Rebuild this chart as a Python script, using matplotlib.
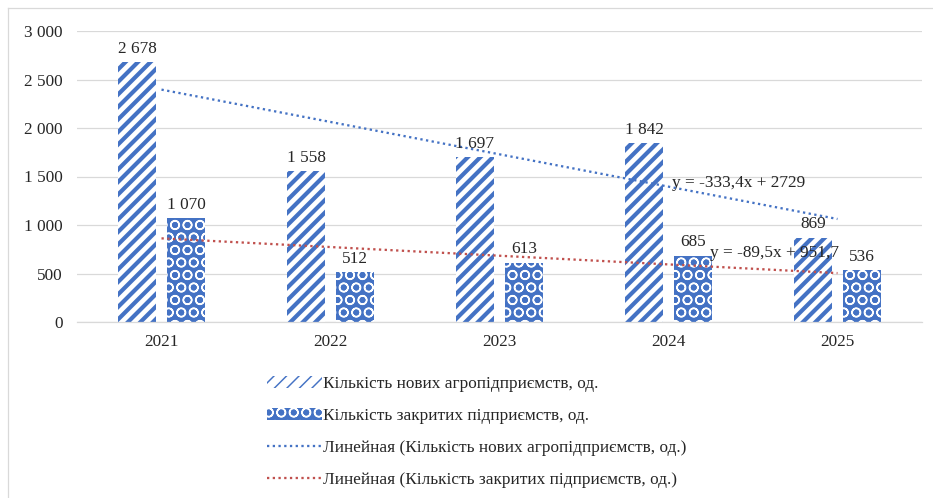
import numpy as np
import matplotlib.pyplot as plt
from matplotlib.lines import Line2D

# chart data
years = ["2021", "2022", "2023", "2024", "2025"]
new_firms = [2678, 1558, 1697, 1842, 869]
closed_firms = [1070, 512, 613, 685, 536]
yticks = [0, 500, 1000, 1500, 2000, 2500, 3000]

label_new = "Кількість нових агропідприємств, од."
label_closed = "Кількість закритих підприємств, од."

BLUE = "#4472C4"
RED = "#C0504D"
GRID = "#D9D9D9"

DPI = 75
plt.rcParams["font.family"] = ["Liberation Serif", "DejaVu Serif"]
plt.rcParams["font.size"] = 16.5

fig = plt.figure(figsize=(933 / DPI, 498 / DPI), dpi=DPI)
ax = fig.add_axes([77 / 933, 1 - 322 / 498, (922 - 77) / 933, (322 - 31) / 498])

x = np.arange(len(years))
w = 0.23
off = 0.145

plt.rcParams["hatch.linewidth"] = 4.0
b1 = ax.bar(x - off, new_firms, w, facecolor="white", edgecolor=BLUE,
            hatch="//", linewidth=0, label=label_new, zorder=2)
plt.rcParams["hatch.linewidth"] = 1.4
b2 = ax.bar(x + off, closed_firms, w, facecolor=BLUE, edgecolor="white",
            hatch="O", linewidth=0, label=label_closed, zorder=2)

fmt = lambda v: f"{v:,}".replace(",", " ")
for bars, vals in ((b1, new_firms), (b2, closed_firms)):
    for r, v in zip(bars, vals):
        ax.annotate(fmt(v), (r.get_x() + r.get_width() / 2, v),
                    xytext=(0, 5), textcoords="offset points",
                    ha="center", va="bottom", color="#262626", zorder=4)

# linear trends (x = 1..5 as in Excel)
t = x + 1
k1, c1 = np.polyfit(t, new_firms, 1)
k2, c2 = np.polyfit(t, closed_firms, 1)
ax.plot(x, k1 * t + c1, ls=(0, (1, 1.5)), lw=2.2, color=BLUE, zorder=3)
ax.plot(x, k2 * t + c2, ls=(0, (1, 1.5)), lw=2.2, color=RED, zorder=3)

def eq(k, c):
    s = f"y = {k:.1f}x + {c:.1f}".replace(".0x", "x")
    if s.endswith(".0"):
        s = s[:-2]
    return s.replace(".", ",")

ax.text(3.02, 1433, eq(k1, c1), va="center", ha="left", color="#262626", zorder=4)
ax.text(3.246, 711, eq(k2, c2), va="center", ha="left", color="#262626", zorder=4)

ax.set_xlim(-0.5, 4.5)
ax.set_ylim(0, 3000)
ax.set_xticks(x)
ax.set_xticklabels(years)
ax.set_yticks(yticks)
ax.set_yticklabels([fmt(v) for v in yticks])
ax.tick_params(length=0, colors="#262626")
ax.tick_params(axis="x", pad=12)
ax.tick_params(axis="y", pad=14)
ax.grid(axis="y", color=GRID, lw=1.2, zorder=0)
ax.set_axisbelow(True)
for s in ("top", "right", "left"):
    ax.spines[s].set_visible(False)
ax.spines["bottom"].set_color(GRID)
ax.spines["bottom"].set_linewidth(1.2)

handles = [b1, b2,
           Line2D([], [], ls=(0, (1, 1.5)), lw=2.2, color=BLUE),
           Line2D([], [], ls=(0, (1, 1.5)), lw=2.2, color=RED)]
labels = [label_new, label_closed,
          f"Линейная ({label_new})", f"Линейная ({label_closed})"]
fig.legend(handles, labels, loc="upper left", bbox_to_anchor=(258 / 933, 1 - 367 / 498),
           frameon=False, handlelength=3.2, handletextpad=0.1, labelspacing=0.93,
           borderpad=0, labelcolor="#262626")

fig.add_artist(plt.Line2D([8 / 933, 1], [1 - 8 / 498] * 2, color=GRID, lw=1.2))
fig.add_artist(plt.Line2D([8 / 933] * 2, [0, 1 - 8 / 498], color=GRID, lw=1.2))

fig.savefig("out.png", dpi=DPI)
